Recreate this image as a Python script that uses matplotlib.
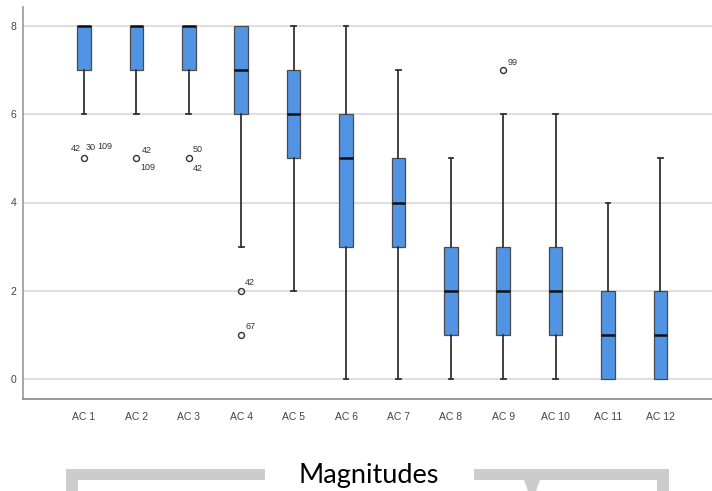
import matplotlib.pyplot as plt
from matplotlib.patches import Rectangle, Polygon

# five-number summaries
labels = ["AC 1", "AC 2", "AC 3", "AC 4", "AC 5", "AC 6",
          "AC 7", "AC 8", "AC 9", "AC 10", "AC 11", "AC 12"]
whislo = [6, 6, 6, 3, 2, 0, 0, 0, 0, 0, 0, 0]
q1 = [7, 7, 7, 6, 5, 3, 3, 1, 1, 1, 0, 0]
med = [8, 8, 8, 7, 6, 5, 4, 2, 2, 2, 1, 1]
q3 = [8, 8, 8, 8, 7, 6, 5, 3, 3, 3, 2, 2]
whishi = [8, 8, 8, 8, 8, 8, 7, 5, 6, 6, 4, 5]

# outliers: (box index, value, case labels)
outliers = [(0, 5, ["42", "30", "109"]),
            (1, 5, ["42", "109"]),
            (2, 5, ["50", "42"]),
            (3, 2, ["42"]),
            (3, 1, ["67"]),
            (8, 7, ["99"])]
# pixel offsets of each case label from its circle
label_offsets = {0: [(-8, 10), (7, 11), (21, 12)],
                 1: [(10, 8), (11, -9)],
                 2: [(9, 9), (9, -10)]}

plt.rcParams['font.family'] = ['Liberation Sans', 'DejaVu Sans']

fig = plt.figure(figsize=(7.12, 4.91), dpi=100)
ax = fig.add_axes([23 / 712, 1 - 399 / 491, 1 - 23 / 712, (399 - 7) / 491])

stats = []
for i in range(len(labels)):
    fl = [v for (j, v, _) in outliers if j == i]
    stats.append(dict(whislo=whislo[i], q1=q1[i], med=med[i], q3=q3[i],
                      whishi=whishi[i], fliers=fl, label=labels[i]))

pos = list(range(1, len(labels) + 1))
bp = ax.bxp(stats, positions=pos, widths=0.26, capwidths=0.09, patch_artist=True,
            showfliers=True,
            boxprops=dict(facecolor="#5194e3", edgecolor="#4a4a4a", linewidth=0.9),
            medianprops=dict(color="#111111", linewidth=1.8),
            whiskerprops=dict(color="#333333", linewidth=1.3),
            capprops=dict(color="#333333", linewidth=1.3),
            flierprops=dict(marker="o", markersize=4.3, markerfacecolor="none",
                            markeredgecolor="#333333", markeredgewidth=1.0))

# no cap drawn when the whisker has zero length
for i in range(len(labels)):
    if whislo[i] == q1[i]:
        bp["caps"][2 * i].set_visible(False)
    if whishi[i] == q3[i]:
        bp["caps"][2 * i + 1].set_visible(False)

for j, v, cases in outliers:
    offs = label_offsets.get(j, [(9, 8)] * len(cases))
    for c, (dx, dy) in zip(cases, offs):
        ax.annotate(c, (pos[j], v), xytext=(dx, dy), textcoords="offset pixels",
                    ha="center", va="center", fontsize=6.5, color="#333333")

ax.set_xlim(1 - 61 / 52.4, 12 + 51.5 / 52.4)
ax.set_ylim(-20 / 44.125, 8 + 19 / 44.125)
ax.set_yticks([0, 2, 4, 6, 8])
ax.set_xticks(pos)
ax.set_xticklabels(labels)
ax.tick_params(axis="both", length=0, labelsize=7.5, labelcolor="#444444")
ax.tick_params(axis="x", pad=9)
ax.tick_params(axis="y", pad=5)
ax.yaxis.grid(True, color="#d9d9d9", linewidth=1.2)
ax.set_axisbelow(True)
for s in ["top", "right"]:
    ax.spines[s].set_visible(False)
ax.spines["left"].set_color("#999999")
ax.spines["bottom"].set_color("#888888")
ax.spines["left"].set_linewidth(1.2)
ax.spines["bottom"].set_linewidth(1.2)

# grey bracket with title below the chart (pixel coordinates)
ov = fig.add_axes([0, 0, 1, 1], zorder=-1)
ov.set_xlim(0, 712)
ov.set_ylim(491, 0)
ov.axis("off")
grey = "#cccccc"
ov.add_patch(Rectangle((66, 469), 199, 11, color=grey, lw=0))
ov.add_patch(Rectangle((66, 469), 12, 22, color=grey, lw=0))
ov.add_patch(Rectangle((474, 469), 195, 11, color=grey, lw=0))
ov.add_patch(Rectangle((657, 469), 12, 22, color=grey, lw=0))
ov.add_patch(Polygon([(524, 480), (540, 480), (536, 491), (528, 491)],
                     closed=True, color=grey, lw=0))
ov.text(368.5, 483, "Magnitudes", ha="center", va="baseline", fontsize=19.5,
        family=["Lato", "DejaVu Sans"], color="#000000")

fig.savefig("out.png", dpi=100)
